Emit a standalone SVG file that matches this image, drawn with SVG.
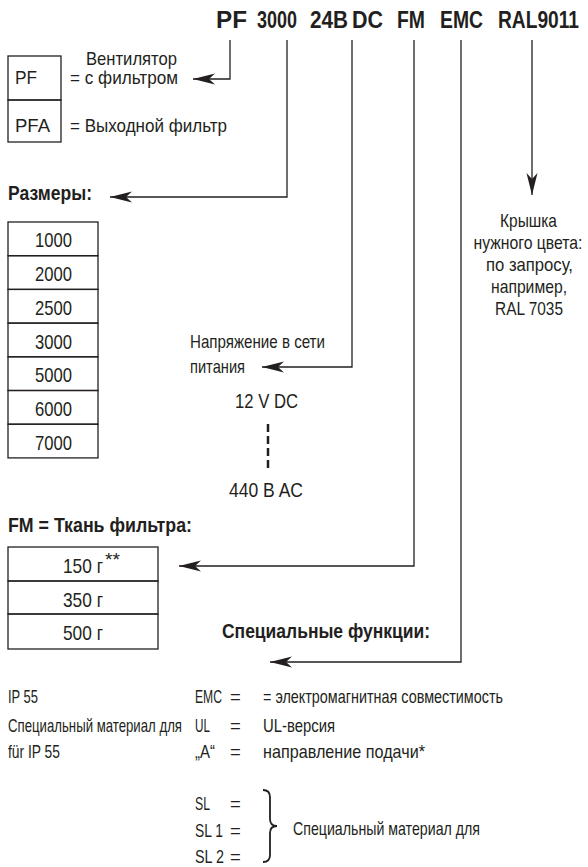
<svg xmlns="http://www.w3.org/2000/svg" width="588" height="867" viewBox="0 0 588 867">
<style>
text{font-family:"Liberation Sans",Arial,sans-serif;fill:#231f20;}
.h{font-size:24px;font-weight:bold;}
.b{font-size:20px;font-weight:bold;}
.r{font-size:19px;}
.n{font-size:21px;}
.s{font-size:18.5px;}
.c{text-anchor:middle;}
.box{fill:none;stroke:#231f20;stroke-width:1.3;}
.ln{fill:none;stroke:#231f20;stroke-width:1.3;}
</style>
<defs>
<marker id="ah" markerWidth="24" markerHeight="12" viewBox="-24 -6 24 12" refX="0" refY="0" orient="auto" markerUnits="userSpaceOnUse"><path d="M0,0 L-22,-5.5 L-16,0 L-22,5.5 Z" fill="#231f20"/></marker>
</defs>
<rect width="588" height="867" fill="#fff"/>
<g id="header">
<text class="h" x="216" y="28" textLength="31" lengthAdjust="spacingAndGlyphs">PF</text>
<text class="h" x="257" y="28" textLength="40" lengthAdjust="spacingAndGlyphs">3000</text>
<text class="h" x="310" y="28" textLength="38" lengthAdjust="spacingAndGlyphs">24B</text>
<text class="h" x="352" y="28" textLength="31" lengthAdjust="spacingAndGlyphs">DC</text>
<text class="h" x="397" y="28" textLength="28" lengthAdjust="spacingAndGlyphs">FM</text>
<text class="h" x="440" y="28" textLength="43" lengthAdjust="spacingAndGlyphs">EMC</text>
<text class="h" x="498" y="28" textLength="81" lengthAdjust="spacingAndGlyphs">RAL9011</text>
</g>
<g id="connectors">
<path class="ln" d="M230,40 V79 H193" marker-end="url(#ah)"/>
<path class="ln" d="M287,40 V197 H110" marker-end="url(#ah)"/>
<path class="ln" d="M352,40 V367 H262" marker-end="url(#ah)"/>
<path class="ln" d="M414,40 V566 H179" marker-end="url(#ah)"/>
<path class="ln" d="M461,40 V662 H270" marker-end="url(#ah)"/>
<path class="ln" d="M532,40 V195" marker-end="url(#ah)"/>
</g>
<g id="type">
<rect class="box" x="8" y="56" width="53" height="44"/>
<rect class="box" x="8" y="100" width="53" height="42"/>
<text class="r" x="15" y="84" textLength="22" lengthAdjust="spacingAndGlyphs">PF</text>
<text class="r" x="15" y="132" textLength="35" lengthAdjust="spacingAndGlyphs">PFA</text>
<text class="r" x="86" y="65" textLength="91" lengthAdjust="spacingAndGlyphs">Вентилятор</text>
<text class="r" x="70" y="84" textLength="108" lengthAdjust="spacingAndGlyphs">= с фильтром</text>
<text class="r" x="70" y="132" textLength="157" lengthAdjust="spacingAndGlyphs">= Выходной фильтр</text>
</g>
<g id="sizes">
<text class="b" x="8" y="200" textLength="84" lengthAdjust="spacingAndGlyphs">Размеры:</text>
<rect class="box" x="8" y="222" width="90" height="33.7"/>
<rect class="box" x="8" y="255.7" width="90" height="33.7"/>
<rect class="box" x="8" y="289.4" width="90" height="33.7"/>
<rect class="box" x="8" y="323.1" width="90" height="33.7"/>
<rect class="box" x="8" y="356.8" width="90" height="33.7"/>
<rect class="box" x="8" y="390.5" width="90" height="33.7"/>
<rect class="box" x="8" y="424.2" width="90" height="33.7"/>
<text class="n c" x="53.5" y="247" textLength="37" lengthAdjust="spacingAndGlyphs">1000</text>
<text class="n c" x="53.5" y="281" textLength="37" lengthAdjust="spacingAndGlyphs">2000</text>
<text class="n c" x="53.5" y="315" textLength="37" lengthAdjust="spacingAndGlyphs">2500</text>
<text class="n c" x="53.5" y="349" textLength="37" lengthAdjust="spacingAndGlyphs">3000</text>
<text class="n c" x="53.5" y="382" textLength="37" lengthAdjust="spacingAndGlyphs">5000</text>
<text class="n c" x="53.5" y="416" textLength="37" lengthAdjust="spacingAndGlyphs">6000</text>
<text class="n c" x="53.5" y="450" textLength="37" lengthAdjust="spacingAndGlyphs">7000</text>
</g>
<g id="voltage">
<text class="r" x="190" y="348" textLength="135" lengthAdjust="spacingAndGlyphs">Напряжение в сети</text>
<text class="r" x="190" y="373" textLength="55" lengthAdjust="spacingAndGlyphs">питания</text>
<text class="n" x="235" y="408" textLength="63" lengthAdjust="spacingAndGlyphs">12 V DC</text>
<line x1="268" y1="424" x2="268" y2="470" stroke="#231f20" stroke-width="2.5" stroke-dasharray="8,4"/>
<text class="n" x="229" y="497" textLength="74" lengthAdjust="spacingAndGlyphs">440 B AC</text>
</g>
<g id="fabric">
<text class="b" x="8" y="532" textLength="184" lengthAdjust="spacingAndGlyphs">FM = Ткань фильтра:</text>
<rect class="box" x="8" y="547" width="150" height="34"/>
<rect class="box" x="8" y="581" width="150" height="33"/>
<rect class="box" x="8" y="614" width="150" height="35"/>
<text class="n" x="63" y="573" textLength="40" lengthAdjust="spacingAndGlyphs">150 г</text>
<text class="s" x="105" y="566" textLength="15" lengthAdjust="spacingAndGlyphs">**</text>
<text class="n" x="63" y="607" textLength="40" lengthAdjust="spacingAndGlyphs">350 г</text>
<text class="n" x="63" y="640" textLength="40" lengthAdjust="spacingAndGlyphs">500 г</text>
</g>
<g id="color">
<text class="s c" x="528.5" y="227" textLength="57" lengthAdjust="spacingAndGlyphs">Крышка</text>
<text class="s c" x="528" y="249" textLength="109" lengthAdjust="spacingAndGlyphs">нужного цвета:</text>
<text class="s c" x="529.5" y="271" textLength="87" lengthAdjust="spacingAndGlyphs">по запросу,</text>
<text class="s c" x="529" y="293" textLength="76" lengthAdjust="spacingAndGlyphs">например,</text>
<text class="s c" x="529" y="315" textLength="68" lengthAdjust="spacingAndGlyphs">RAL 7035</text>
</g>
<g id="special">
<text class="b" x="222" y="638" textLength="208" lengthAdjust="spacingAndGlyphs">Специальные функции:</text>
<text class="s" x="8" y="703" textLength="30" lengthAdjust="spacingAndGlyphs">IP 55</text>
<text class="s" x="8" y="732" textLength="174" lengthAdjust="spacingAndGlyphs">Специальный материал для</text>
<text class="s" x="8" y="758" textLength="52" lengthAdjust="spacingAndGlyphs">für IP 55</text>
<text class="s" x="195" y="703" textLength="27" lengthAdjust="spacingAndGlyphs">EMC</text>
<text class="s" x="230" y="703">=</text>
<text class="s" x="263" y="703" textLength="240" lengthAdjust="spacingAndGlyphs">= электромагнитная совместимость</text>
<text class="s" x="195" y="732" textLength="15" lengthAdjust="spacingAndGlyphs">UL</text>
<text class="s" x="230" y="732">=</text>
<text class="s" x="263" y="732" textLength="72" lengthAdjust="spacingAndGlyphs">UL-версия</text>
<text class="s" x="195" y="758" textLength="20" lengthAdjust="spacingAndGlyphs">„A“</text>
<text class="s" x="230" y="758">=</text>
<text class="s" x="263" y="758" textLength="162" lengthAdjust="spacingAndGlyphs">направление подачи*</text>
<text class="s" x="195" y="810" textLength="15" lengthAdjust="spacingAndGlyphs">SL</text>
<text class="s" x="230" y="810">=</text>
<text class="s" x="195" y="837" textLength="28" lengthAdjust="spacingAndGlyphs">SL 1</text>
<text class="s" x="230" y="837">=</text>
<text class="s" x="195" y="863" textLength="29" lengthAdjust="spacingAndGlyphs">SL 2</text>
<text class="s" x="230" y="863">=</text>
<path d="M263,790 Q270,790 270,797 V819 Q270,826 277,826 Q270,826 270,833 V855 Q270,862 263,862" fill="none" stroke="#231f20" stroke-width="1.8"/>
<text class="s" x="293" y="835" textLength="187" lengthAdjust="spacingAndGlyphs">Специальный материал для</text>
</g>
</svg>
